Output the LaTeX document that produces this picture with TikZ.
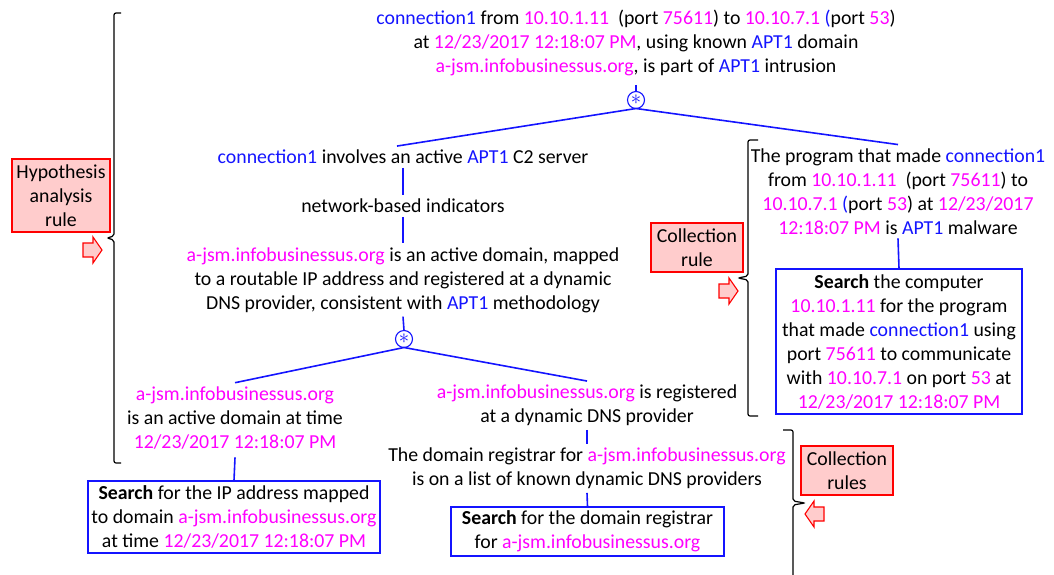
\documentclass[tikz,border=0pt]{standalone}
\usepackage{fontspec}
\setmainfont{Carlito}
\definecolor{cblue}{RGB}{20,20,255}
\definecolor{cmag}{RGB}{255,0,255}
\definecolor{cpink}{RGB}{255,204,204}
\definecolor{cred}{RGB}{255,0,0}
\newcommand\tb[1]{\textcolor{cblue}{#1}}
\newcommand\tm[1]{\textcolor{cmag}{#1}}
\tikzset{
  txt/.style={align=center, inner sep=0pt, outer sep=4pt},
  searchbox/.style={draw=cblue, line width=1.1pt, fill=white, align=center, inner xsep=3pt, inner ysep=0pt},
  rulebox/.style={draw=cred, line width=1.1pt, fill=cpink, align=center, inner sep=0pt},
  andnode/.style={circle, draw=cblue, line width=1.1pt, minimum size=17pt, inner sep=0pt, outer sep=0pt, text=cblue, font=\fontsize{21}{21}\selectfont},
  link/.style={draw=cblue, line width=1.6pt},
  brace/.style={draw=black, line width=1.2pt, rounded corners=2pt},
  pointerline/.style={draw=cred, line width=1.1pt, fill=cpink, line join=miter},
  pointer/.pic={
    \path[pointerline] (-9.5,-7) -- (0.5,-7) -- (0.5,-13) -- (9.5,0) -- (0.5,13) -- (0.5,7) -- (-9.5,7) -- cycle;
  }
}
\begin{document}
\begin{tikzpicture}[x=1pt, y=-1pt, font=\fontsize{19.8}{24}\selectfont]
\useasboundingbox (0,0) rectangle (1054,574);

% goal at the top and its conjunction
\node[txt] (top) at (636,43) {\tb{connection1} from \tm{10.10.1.11}\ \ (port \tm{75611}) to \tm{10.10.7.1} \tb{(}port \tm{53})\\ at \tm{12/23/2017 12:18:07 PM}, using known \tb{APT1} domain\\ \tm{a-jsm.infobusinessus.org}, is part of \tb{APT1} intrusion};
\node[andnode] (and1) at (636,100) {$\ast$};

% left branch
\node[txt] (c2) at (403,157) {\tb{connection1} involves an active \tb{APT1} C2 server};
\node[txt] (nbi) at (403,206) {network-based indicators};
\node[txt] (dom) at (403,280) {\tm{a-jsm.infobusinessus.org} is an active domain, mapped\\ to a routable IP address and registered at a dynamic\\ DNS provider, consistent with \tb{APT1} methodology};
\node[andnode] (and2) at (404,339) {$\ast$};
\node[txt] (act) at (235,418) {\tm{a-jsm.infobusinessus.org}\\ is an active domain at time\\ \tm{12/23/2017 12:18:07 PM}};
\node[searchbox, minimum width=292pt, minimum height=72pt] (s1) at (234,517) {\textbf{Search} for the IP address mapped\\ to domain \tm{a-jsm.infobusinessus.org}\\ at time \tm{12/23/2017 12:18:07 PM}};
\node[txt] (reg) at (587,405.5) {\tm{a-jsm.infobusinessus.org} is registered\\ at a dynamic DNS provider};
\node[txt] (regl) at (587,468.5) {The domain registrar for \tm{a-jsm.infobusinessus.org}\\ is on a list of known dynamic DNS providers};
\node[searchbox, minimum width=273pt, minimum height=49pt] (s2) at (587.5,531.5) {\textbf{Search} for the domain registrar\\ for \tm{a-jsm.infobusinessus.org}};

% right branch
\node[txt] (prog) at (898,191.5) {The program that made \tb{connection1}\\ from \tm{10.10.1.11}\ \ (port \tm{75611}) to\\ \tm{10.10.7.1} \tb{(}port \tm{53}) at \tm{12/23/2017}\\ \tm{12:18:07 PM} is \tb{APT1} malware};
\node[searchbox, minimum width=246pt, minimum height=145pt] (s3) at (899,341.5) {\textbf{Search} the computer\\ \tm{10.10.1.11} for the program\\ that made \tb{connection1} using\\ port \tm{75611} to communicate\\ with \tm{10.10.7.1} on port \tm{53} at\\ \tm{12/23/2017 12:18:07 PM}};

% connectors
\draw[link] ([yshift=-5pt]top.south) -- (and1.north);
\draw[link] (and1.south) -- ([xshift=-6pt]c2.north);
\draw[link] (and1.south) -- (prog.north);
\draw[link] (c2.south) -- (nbi.north);
\draw[link] (nbi.south) -- (dom.north);
\draw[link] (dom.south) -- (and2.north);
\draw[link] (and2.south) -- (act.north);
\draw[link] (and2.south) -- (reg.north);
\draw[link] ([yshift=-4pt]act.south) -- (s1.north);
\draw[link] (reg.south) -- (regl.north);
\draw[link] (regl.south) -- (s2.north);
\draw[link] (prog.south) -- (s3.north);

% rule labels with their braces and pointers
\node[rulebox, minimum width=98pt, minimum height=73pt] (hyp) at (61,195.5) {Hypothesis\\ analysis\\ rule};
\pic at (92.5,250) {pointer};
\draw[brace] (121,13) -- (114,13) -- (114,236) -- (107,238) -- (114,240) -- (114,463) -- (121,463);

\node[rulebox, minimum width=92pt, minimum height=49pt] (cr) at (697,247.5) {Collection\\ rule};
\pic at (728.5,291) {pointer};
\draw[brace] (758,140) -- (748,140) -- (748,276) -- (738,278) -- (748,280) -- (748,416) -- (758,416);

\node[rulebox, minimum width=92pt, minimum height=49pt] (crs) at (847,470.5) {Collection\\ rules};
\pic[rotate=180] at (814.5,514) {pointer};
\draw[brace] (783,430) -- (793,430) -- (793,501) -- (805,503) -- (793,505) -- (793,580);
\end{tikzpicture}
\end{document}
